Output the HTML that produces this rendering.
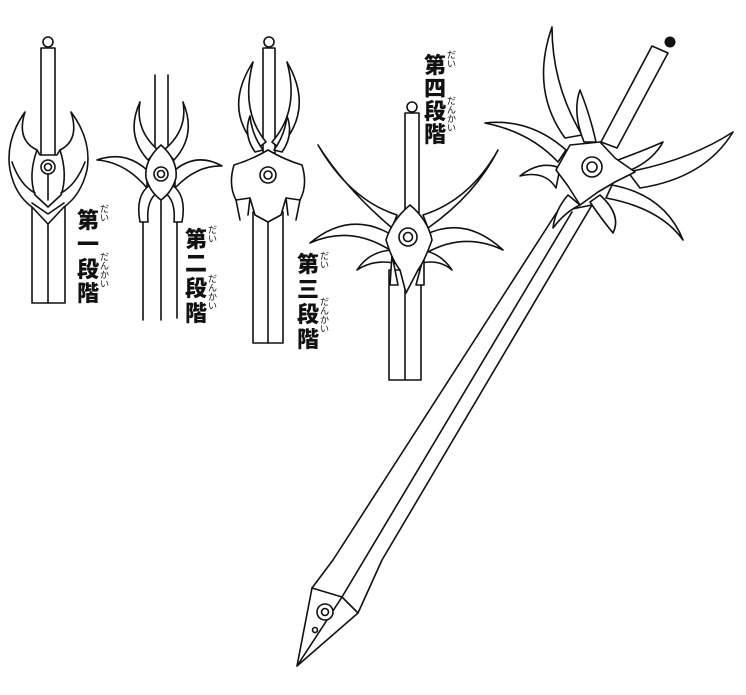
<!DOCTYPE html>
<html><head><meta charset="utf-8"><style>
html,body{margin:0;padding:0;background:#fff;width:746px;height:695px;overflow:hidden}
svg{display:block}
.l{fill:none;stroke:#111;stroke-width:1.6;stroke-linejoin:round;stroke-linecap:round}
.f{fill:#fff;stroke:#111;stroke-width:1.6;stroke-linejoin:round}
.k{font-family:"Liberation Sans","Noto Sans CJK JP",sans-serif;font-weight:900;font-size:22px;fill:#111}
.r{font-family:"Liberation Sans","Noto Sans CJK JP",sans-serif;font-size:9px;fill:#111}
</style></head><body>
<svg width="746" height="695" viewBox="0 0 746 695">
<!-- Sword 1 -->
<g>
<rect class="f" x="32" y="200" width="33" height="103"/>
<path class="l" d="M48 215 L48 303"/>
<rect class="f" x="41" y="48" width="14" height="110"/>
<circle class="f" cx="48" cy="42" r="5"/>
<path class="f" d="M25 112 Q5 140 10 170 Q15 195 32 207 L48 224 L64 207 Q81 195 87 170 Q92 140 71 112 Q80 140 60 150 L57 155 L40 155 L37 150 Q16 140 25 112Z"/>
<path class="l" d="M37 150 Q28 175 35 195 L48 207 L61 195 Q68 175 60 150 M32 203 L48 214 L64 203 M35 193 Q20 185 12 162 M61 193 Q76 185 85 162 M48 174 L48 200"/>
<circle class="f" cx="48" cy="167" r="7"/><circle class="l" cx="48" cy="167" r="3.5"/>
</g>
<!-- Sword 2 -->
<g>
<path class="l" d="M155 75 L155 150 M168 75 L168 150 M143 215 L143 320 M177 215 L177 318 M161 200 L161 320"/>
<path class="f" d="M148 160 Q125 135 140 102 Q135 130 158 150Z"/>
<path class="f" d="M174 160 Q197 135 183 102 Q188 130 164 150Z"/>
<path class="f" d="M147 170 Q125 150 97 160 Q125 162 147 188Z"/>
<path class="f" d="M175 170 Q197 152 222 166 Q197 165 175 188Z"/>
<path class="f" d="M150 185 Q135 195 140 222 L148 222 Q146 200 158 192Z"/>
<path class="f" d="M172 185 Q187 195 182 222 L174 222 Q176 200 164 192Z"/>
<path class="f" d="M161 145 Q178 160 176 178 Q172 192 161 200 Q150 192 146 178 Q144 160 161 145Z"/>
<circle class="f" cx="161" cy="174" r="7"/><circle class="l" cx="161" cy="174" r="3.5"/>
</g>
<!-- Sword 3 -->
<g>
<rect class="f" x="253" y="212" width="30" height="131"/>
<path class="l" d="M268 215 L268 343"/>
<rect class="f" x="263" y="48" width="12" height="105"/>
<circle class="f" cx="269" cy="42" r="5"/>
<path class="f" d="M258 148 Q222 110 253 62 Q240 110 266 142Z"/>
<path class="f" d="M279 148 Q315 110 287 62 Q300 110 272 142Z"/>
<path class="f" d="M255 152 Q243 135 250 116 Q252 135 263 150Z"/>
<path class="f" d="M282 152 Q294 135 287 116 Q285 135 274 150Z"/>
<path class="f" d="M268 150 Q285 160 302 165 Q308 185 300 200 L286 198 L281 215 L268 222 L255 215 L250 198 L236 200 Q228 185 234 165 Q251 160 268 150Z"/>
<path class="l" d="M236 200 L240 220 M300 200 L296 220 M250 198 L248 215 M286 198 L288 215"/>
<circle class="f" cx="268" cy="175" r="8"/><circle class="l" cx="268" cy="175" r="4"/>
</g>
<!-- Sword 4 -->
<g>
<rect class="f" x="389" y="270" width="32" height="110"/>
<path class="l" d="M405 280 L405 380"/>
<rect class="f" x="405" y="113" width="14" height="100"/>
<circle class="f" cx="412" cy="107" r="5"/>
<path class="f" d="M397 215 Q350 200 318 145 Q345 188 392 228Z"/>
<path class="f" d="M423 215 Q470 200 498 150 Q475 195 428 228Z"/>
<path class="f" d="M392 235 Q350 210 310 243 Q350 225 390 250Z"/>
<path class="f" d="M425 235 Q465 215 503 250 Q465 232 428 252Z"/>
<path class="f" d="M395 250 Q370 250 357 270 Q375 258 398 264Z"/>
<path class="f" d="M420 250 Q440 252 452 270 Q438 258 418 264Z"/>
<path class="f" d="M392 255 L390 285 L398 285 Z M424 255 L424 285 L416 285Z"/>
<path class="f" d="M410 205 Q428 220 432 240 Q425 260 418 270 L406 293 L400 270 Q392 260 386 240 Q392 220 410 205Z"/>
<circle class="f" cx="408" cy="237" r="9"/><circle class="l" cx="408" cy="237" r="4.5"/>
</g>
<!-- Big sword -->
<g>
<path class="f" d="M297 666 L312 588 L333 560 L557 212 L592 205 L382 560 L358 613Z"/>
<path class="l" d="M342 597 L572 212 M312 588 L342 597 L358 613 M342 597 L297 666"/>
<circle class="f" cx="325" cy="612" r="8"/><circle class="f" cx="325" cy="612" r="3.5"/>
<circle class="f" cx="315" cy="630" r="2.5"/>
<path class="f" d="M601 142 L652 46 L668 53 L617 148Z"/>
<circle cx="670" cy="42" r="5.5" fill="#111"/>
<path class="f" d="M565 138 Q530 90 552 27 Q552 85 582 135Z"/>
<path class="f" d="M584 142 Q572 112 580 90 Q590 115 596 142Z"/>
<path class="f" d="M566 150 Q530 118 485 123 Q530 132 558 162Z"/>
<path class="f" d="M560 168 Q540 160 520 176 Q545 170 556 188Z"/>
<path class="f" d="M618 160 Q645 150 663 142 Q652 162 626 172Z"/>
<path class="f" d="M628 172 Q690 160 733 132 Q705 178 640 188Z"/>
<path class="f" d="M612 185 Q665 195 683 240 Q660 208 606 198Z"/>
<path class="f" d="M600 195 Q622 215 613 233 Q600 217 590 202Z"/>
<path class="f" d="M568 195 Q555 210 553 228 Q565 212 580 205Z"/>
<path class="f" d="M570 145 L600 142 L615 158 L635 172 L615 182 L598 192 L580 205 L568 186 L556 170Z"/>
<circle class="f" cx="592" cy="167" r="10"/><circle class="f" cx="592" cy="167" r="5"/>
</g>
<!-- Labels -->
<g>
<text class="k" x="77" y="228">第</text><text class="r" x="100" y="212">だ</text><text class="r" x="100" y="221">い</text>
<text class="k" x="77" y="252">一</text>
<text class="k" x="77" y="277">段</text><text class="r" x="100" y="260">だ</text><text class="r" x="100" y="269">ん</text><text class="r" x="100" y="278">か</text><text class="r" x="100" y="287">い</text>
<text class="k" x="77" y="301">階</text>

<text class="k" x="185" y="247">第</text><text class="r" x="208" y="233">だ</text><text class="r" x="208" y="242">い</text>
<text class="k" x="185" y="271">二</text>
<text class="k" x="185" y="296">段</text><text class="r" x="208" y="282">だ</text><text class="r" x="208" y="291">ん</text><text class="r" x="208" y="300">か</text><text class="r" x="208" y="309">い</text>
<text class="k" x="185" y="321">階</text>

<text class="k" x="297" y="272">第</text><text class="r" x="320" y="259">だ</text><text class="r" x="320" y="268">い</text>
<text class="k" x="297" y="297">三</text>
<text class="k" x="297" y="322">段</text><text class="r" x="320" y="305">だ</text><text class="r" x="320" y="314">ん</text><text class="r" x="320" y="323">か</text><text class="r" x="320" y="332">い</text>
<text class="k" x="297" y="347">階</text>

<text class="k" x="424" y="73">第</text><text class="r" x="447" y="58">だ</text><text class="r" x="447" y="67">い</text>
<text class="k" x="424" y="96">四</text>
<text class="k" x="424" y="119">段</text><text class="r" x="447" y="104">だ</text><text class="r" x="447" y="113">ん</text><text class="r" x="447" y="122">か</text><text class="r" x="447" y="131">い</text>
<text class="k" x="424" y="142">階</text>
</g>
</svg>
</body></html>
